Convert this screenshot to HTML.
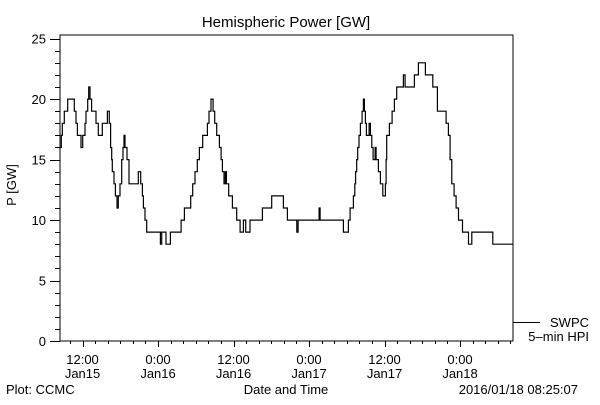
<!DOCTYPE html>
<html><head><meta charset="utf-8"><style>
body{margin:0;background:#fff}
svg text{font-family:"Liberation Sans",sans-serif;font-size:13px;fill:#000}
</style></head><body>
<svg id="chart" width="600" height="400" viewBox="0 0 600 400" xmlns="http://www.w3.org/2000/svg">
<rect width="600" height="400" fill="#fff"/>
<text x="286" y="27" text-anchor="middle" font-size="15" style="font-size:15px">Hemispheric Power [GW]</text>
<text transform="translate(16,185) rotate(-90)" text-anchor="middle">P [GW]</text>
<rect x="60" y="35" width="453" height="306" fill="none" stroke="#000" stroke-width="1"/>
<g id="yticks"></g><g id="xticks"></g>
<polyline id="series" fill="none" stroke="#000" stroke-width="1.2"/>
<line x1="513" y1="322.5" x2="540" y2="322.5" stroke="#000"/>
<text x="589" y="327" text-anchor="end">SWPC</text>
<text x="589" y="341" text-anchor="end">5–min HPI</text>
<text x="286" y="394" text-anchor="middle">Date and Time</text>
<text x="6" y="394">Plot: CCMC</text>
<text x="578" y="394" text-anchor="end">2016/01/18 08:25:07</text>
</svg>
<script>
const timesH=[0,0.21,0.37,0.69,1.22,2.28,2.54,2.76,3.34,3.60,3.97,4.13,4.40,4.56,4.77,5.03,5.72,6.09,6.73,7.53,7.84,8.05,8.21,8.32,8.59,8.80,9.06,9.27,9.54,9.80,10.02,10.17,10.33,10.65,10.97,12.45,12.82,13.09,13.25,13.51,13.78,15.95,16.16,16.85,17.54,19.24,19.77,20.77,21.09,21.46,21.83,22.15,
22.68,23.42,23.69,24.0,24.33,24.59,24.91,25.33,25.60,25.81,26.07,26.28,26.44,26.81,27.40,28.09,28.62,29.15,29.52,30.20,32.17,33.65,35.51,36.14,37.63,37.84,41.18,41.34,45.05,45.84,46.11,
46.64,46.85,46.99,47.16,47.32,47.53,47.75,48.01,48.22,48.38,48.54,48.70,49.13,49.34,49.55,49.77,50.08,50.24,50.61,50.93,51.30,51.72,51.83,51.93,52.36,52.78,53.15,53.52,54.58,54.85,56.33,56.97,58.08,59.25,59.99,61.37,61.74,62.00,62.27,62.64,62.96,63.33,63.97,64.92,65.45,68.79,72];
const powerGW=[16,17,18,19,20,19,18,17,16,17,18,19,20,21,20,19,18,17,18,19,18,16,15,14,13,12,11,12,13,15,16,17,16,15,13,14,13,12,11,10,9,8,9,8,9,10,11,12,13,14,15,16,
17,18,19,20,19,18,17,16,15,14,13,14,13,12,11,10,9,10,9,10,11,12,11,10,9,10,11,10,9,10,11,
12,13,14,15,16,17,18,19,20,19,18,17,18,17,16,15,16,15,14,13,12,13,15,17,18,19,20,21,22,21,22,23,22,21,19,18,17,15,13,12,11,10,9,8,9,8,8];
const yTickLabels=["0","5","10","15","20","25"];
const xTickHours=[3.58,15.58,27.58,39.58,51.58,63.58];
const xTickTimes=["12:00","0:00","12:00","0:00","12:00","0:00"];
const xTickDays=["Jan15","Jan16","Jan16","Jan17","Jan17","Jan18"];
const NS="http://www.w3.org/2000/svg";
const X0=60,X1=513,Y0=341,YTOP=35,HMAX=72,VMAX=25.3;
const xs=h=>X0+h/HMAX*(X1-X0);
const ys=v=>Y0-v/VMAX*(Y0-YTOP);
function mk(tag,attrs,parent){const e=document.createElementNS(NS,tag);for(const k in attrs)e.setAttribute(k,attrs[k]);parent.appendChild(e);return e;}
const yg=document.getElementById('yticks');
for(let v=0;v<=25;v++){
  const y=Math.round(ys(v))+0.5,major=v%5===0;
  const t=mk('line',{x1:major?50:55,x2:60,y1:y,y2:y,stroke:'#000'},yg);
  
  
}
yTickLabels.forEach(l=>{
  const t=mk('text',{x:46,y:ys(+l)+5,'text-anchor':'end'},yg);t.textContent=l;
  
  
});
const xg=document.getElementById('xticks');
for(let h=xTickHours[0]%2;h<HMAX;h+=2){
  const x=Math.round(xs(h))+0.5,major=xTickHours.some(m=>Math.abs(m-h)<0.01);
  const t=mk('line',{x1:x,x2:x,y1:Y0,y2:Y0+(major?6:3),stroke:'#000'},xg);
  
  
}
xTickHours.forEach((h,i)=>{
  const a=mk('text',{x:xs(h),y:364,'text-anchor':'middle'},xg);a.textContent=xTickTimes[i];
  
  
  const b=mk('text',{x:xs(h),y:378,'text-anchor':'middle'},xg);b.textContent=xTickDays[i];
  
  
});
let pts=[];
for(let i=0;i<timesH.length;i++){
  const x=xs(timesH[i]).toFixed(1),y=ys(powerGW[i]).toFixed(1);
  if(i>0)pts.push(x+','+ys(powerGW[i-1]).toFixed(1));
  pts.push(x+','+y);
}
document.getElementById('series').setAttribute('points',pts.join(' '));
</script>
</body></html>
